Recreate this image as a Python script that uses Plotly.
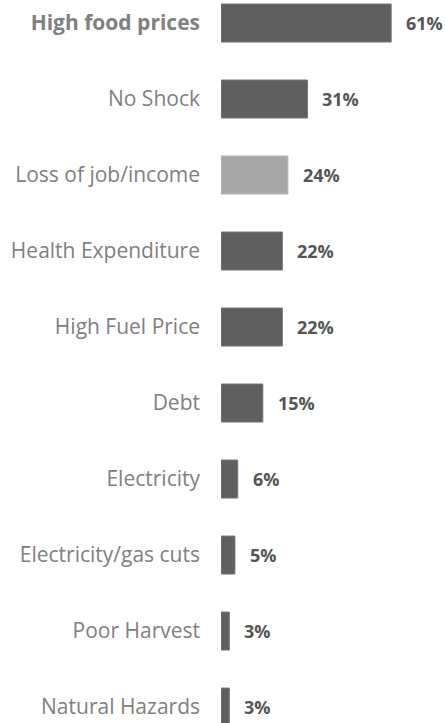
import plotly.graph_objects as go

# shock categories and share of households (%)
categories = ["High food prices", "No Shock", "Loss of job/income", "Health Expenditure",
              "High Fuel Price", "Debt", "Electricity", "Electricity/gas cuts",
              "Poor Harvest", "Natural Hazards"]
values = [61, 31, 24, 22, 22, 15, 6, 5, 3, 3]
value_labels = ["61%", "31%", "24%", "22%", "22%", "15%", "6%", "5%", "3%", "3%"]
highlight = "Loss of job/income"
bold_label = "High food prices"

dark = "#5f5f5f"
light = "#a6a6a6"
bar_colors = [light if c == highlight else dark for c in categories]
line_colors = ["#b8b8b8" if c == highlight else "#777777" for c in categories]
tick_text = ["<b>%s</b>" % c if c == bold_label else c for c in categories]

fig = go.Figure()
fig.add_trace(go.Bar(
    x=values, y=categories, orientation="h",
    marker=dict(color=bar_colors, line=dict(color=line_colors, width=1)),
    width=0.5, hoverinfo="skip"
))

# value labels next to the bars
for c, v, t in zip(categories, values, value_labels):
    fig.add_annotation(x=v, y=c, text="<b>%s</b>" % t, showarrow=False,
                       xanchor="left", xshift=13,
                       font=dict(family="Open Sans", size=18, color="#555555"))

fig.update_layout(
    width=445, height=723,
    margin=dict(l=221, r=0, t=0, b=0),
    plot_bgcolor="white", paper_bgcolor="white",
    showlegend=False,
    font=dict(family="Open Sans", size=21, color="#808080"),
)
fig.update_xaxes(range=[0, 80.3], visible=False)
fig.update_yaxes(
    range=[9.21, -0.303], tickvals=categories, ticktext=tick_text,
    showgrid=False, showline=False, ticks="", ticklabelstandoff=20,
    tickfont=dict(family="Open Sans", size=21, color="#808080")
)
# drop the default page margin so the figure fills the window
fig.write_html("out.html", config={"displayModeBar": False},
               post_script="document.body.style.margin='0';")
